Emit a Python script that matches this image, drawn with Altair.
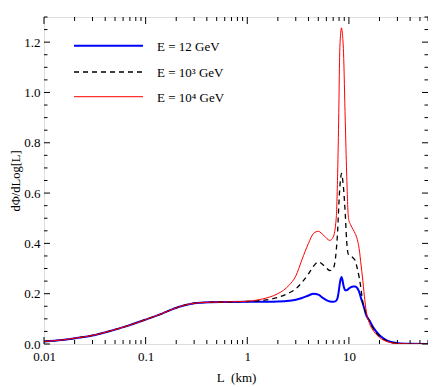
import altair as alt
import pandas as pd

# ---- data ----
L_km = [0.01, 0.015, 0.021, 0.03, 0.044, 0.065, 0.1, 0.145, 0.21, 0.3, 0.42, 0.6,
        1.0, 1.3, 1.64, 2.0, 2.57, 3.0, 3.45, 4.0, 4.5, 5.0, 5.7, 6.5, 7.0, 7.5,
        7.75, 7.95, 8.1, 8.3, 8.45, 8.6, 8.85, 9.2, 9.5, 9.9, 10.4, 11.0, 11.5,
        12.1, 12.6, 13.2, 13.6, 14.2, 14.7, 16.0, 17.6, 20.0, 22.0, 26.0, 32.0,
        40.0, 60.0]

phi_12GeV = [0.010, 0.016, 0.024, 0.034, 0.051, 0.071, 0.097, 0.121, 0.147, 0.162, 0.166, 0.167,
             0.168, 0.168, 0.168, 0.169, 0.172, 0.176, 0.183, 0.193, 0.200, 0.196, 0.180, 0.169, 0.168, 0.172,
             0.185, 0.210, 0.235, 0.258, 0.266, 0.258, 0.232, 0.214, 0.214, 0.219, 0.225, 0.229, 0.229,
             0.222, 0.208, 0.180, 0.165, 0.140, 0.118, 0.092, 0.062, 0.035, 0.022, 0.008, 0.002,
             0.0005, 0.0]

phi_1e3GeV = [0.010, 0.016, 0.024, 0.034, 0.051, 0.071, 0.097, 0.121, 0.147, 0.162, 0.166, 0.167,
              0.169, 0.172, 0.177, 0.185, 0.203, 0.219, 0.245, 0.279, 0.310, 0.326, 0.312, 0.292, 0.300, 0.370,
              0.450, 0.550, 0.610, 0.660, 0.678, 0.665, 0.620, 0.520, 0.410, 0.355, 0.350, 0.342, 0.333,
              0.300, 0.266, 0.215, 0.173, 0.142, 0.122, 0.088, 0.058, 0.031, 0.019, 0.007, 0.0015,
              0.0003, 0.0]

phi_1e4GeV = [0.010, 0.016, 0.024, 0.034, 0.051, 0.071, 0.097, 0.121, 0.147, 0.162, 0.166, 0.167,
              0.170, 0.176, 0.186, 0.200, 0.233, 0.270, 0.335, 0.400, 0.440, 0.448, 0.430, 0.412, 0.425, 0.500,
              0.680, 0.920, 1.140, 1.235, 1.257, 1.240, 1.160, 0.890, 0.680, 0.500, 0.474, 0.455, 0.440,
              0.415, 0.380, 0.310, 0.266, 0.190, 0.140, 0.080, 0.050, 0.026, 0.015, 0.005, 0.001,
              0.0, 0.0]

series_labels = ["E = 12 GeV", "E = 10\u00b3 GeV", "E = 10\u2074 GeV"]
series_colors = ["#0000ff", "#000000", "#ff0000"]
series_widths = [2.0, 1.3, 1.0]

x_major = [0.01, 0.1, 1, 10]
x_minor = [m * d for d in [0.01, 0.1, 1, 10] for m in range(2, 10) if m * d <= 60]
y_major = [0.0, 0.2, 0.4, 0.6, 0.8, 1.0, 1.2]
y_minor = [round(0.05 * i, 2) for i in range(0, 27) if i % 4 != 0]

W, H = 384, 327
FONT = "Liberation Serif"

rows = []
for lab, vals in zip(series_labels, [phi_12GeV, phi_1e3GeV, phi_1e4GeV]):
    for l, v in zip(L_km, vals):
        rows.append({"L": l, "phi": v, "series": lab})
df = pd.DataFrame(rows)

xscale = alt.Scale(type="log", domain=[0.01, 60], nice=False)
yscale = alt.Scale(domain=[0, 1.3], nice=False, zero=False)

xaxis = alt.Axis(values=x_major, labelExpr="format(datum.value, '~g')", ticks=False, domain=False,
                 grid=False, labelFont=FONT, labelFontSize=13, labelColor="black", labelPadding=6,
                 title="L\u00a0\u00a0(km)", titleFont=FONT, titleFontSize=13, titleFontWeight="normal",
                 titleColor="black", titleX=W / 2, titleY=37, titleBaseline="alphabetic",
                 titleAlign="center", labelFlush=False, labelOverlap=False)
yaxis = alt.Axis(values=y_major, format=".1f", ticks=False, domain=False, grid=False,
                 labelFont=FONT, labelFontSize=13, labelColor="black", labelPadding=4,
                 title="d\u03a6/dLog[L]", titleFont=FONT, titleFontSize=12.5, titleFontWeight="normal",
                 titleColor="black", titleX=-29, titleY=H / 2, titleAngle=270, titleAlign="center",
                 titleBaseline="middle", labelFlush=False, labelOverlap=False)

layers = []
for lab, col, w in zip(series_labels, series_colors, series_widths):
    kw = dict(color=col, strokeWidth=w, interpolate="monotone", clip=True)
    if col == "#000000":
        kw["strokeDash"] = [5, 4]
    layers.append(
        alt.Chart(df).transform_filter(alt.datum.series == lab).mark_line(**kw).encode(
            x=alt.X("L:Q", scale=xscale, axis=xaxis),
            y=alt.Y("phi:Q", scale=yscale, axis=yaxis),
        )
    )

# inward ticks on all four sides
def xticks(vals, length):
    d = pd.DataFrame({"L": vals})
    bottom = alt.Chart(d).mark_rule(color="black", strokeWidth=1).encode(
        x=alt.X("L:Q", scale=xscale, axis=xaxis), y=alt.value(H), y2=alt.value(H - length))
    top = alt.Chart(d).mark_rule(color="black", strokeWidth=1).encode(
        x=alt.X("L:Q", scale=xscale, axis=xaxis), y=alt.value(0), y2=alt.value(length))
    return [bottom, top]

def yticks(vals, length):
    d = pd.DataFrame({"phi": vals})
    left = alt.Chart(d).mark_rule(color="black", strokeWidth=1).encode(
        y=alt.Y("phi:Q", scale=yscale, axis=yaxis), x=alt.value(0), x2=alt.value(length))
    right = alt.Chart(d).mark_rule(color="black", strokeWidth=1).encode(
        y=alt.Y("phi:Q", scale=yscale, axis=yaxis), x=alt.value(W), x2=alt.value(W - length))
    return [left, right]

layers += xticks(x_major, 7) + xticks(x_minor, 4) + yticks(y_major, 6) + yticks(y_minor, 3.5)

# legend (top-left)
leg_rows = [28.7, 55.0, 79.7]
one = pd.DataFrame({"k": [0]})
for lab, col, w, ry in zip(series_labels, series_colors, series_widths, leg_rows):
    kw = dict(color=col, strokeWidth=w)
    if col == "#000000":
        kw["strokeDash"] = [5, 4]
    layers.append(alt.Chart(one).mark_rule(**kw).encode(
        x=alt.value(30), x2=alt.value(99), y=alt.value(ry)))
    layers.append(alt.Chart(one).mark_text(text=lab, font=FONT, fontSize=13, color="black",
                                           align="left", baseline="middle", dy=1).encode(
        x=alt.value(113), y=alt.value(ry)))

chart = alt.layer(*layers).properties(
    width=W, height=H,
    autosize=alt.AutoSizeParams(type="none"),
    padding={"left": 36, "top": 9, "right": 0, "bottom": 44},
).configure_view(stroke="black", strokeWidth=1).configure(background="white")

chart.save("out.html", embed_options={"renderer": "svg", "actions": False})
